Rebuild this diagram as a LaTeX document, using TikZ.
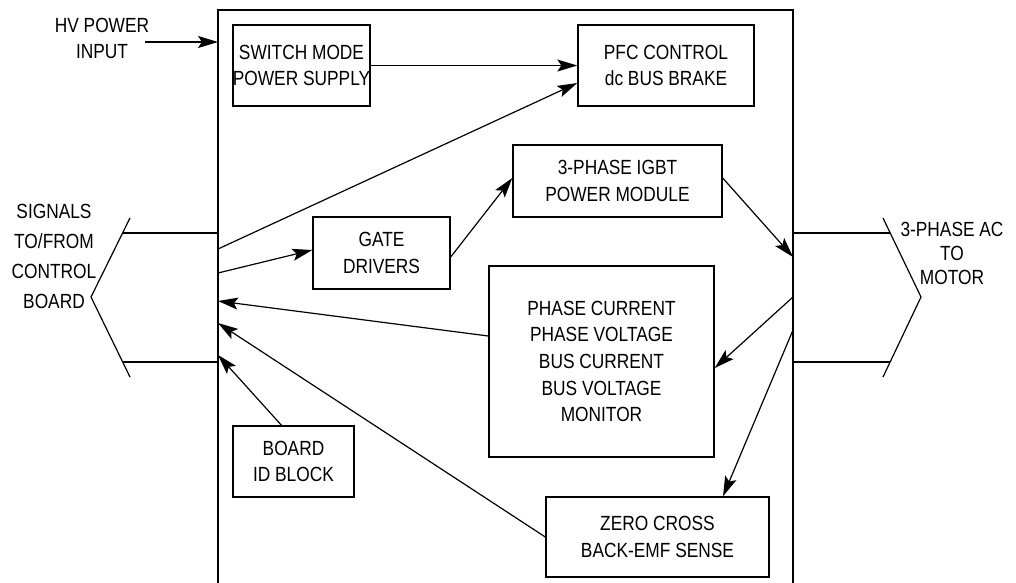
\documentclass[tikz,border=0pt]{standalone}
\usepackage{fontspec}
\setmainfont{Liberation Sans}[FakeStretch=0.845]
\usetikzlibrary{arrows.meta,calc}
\begin{document}
\begin{tikzpicture}[x=1pt,y=-1pt,
  box/.style={draw, line width=1.4pt, align=center, inner sep=0pt, font=\fontsize{20.5}{26.7}\selectfont},
  conn/.style={line width=1.2pt},
  arr/.style={conn, -{Stealth[length=20pt,width=12pt,inset=4pt]}},
  lbl/.style={align=center, inner sep=0pt}]
\clip (0,0) rectangle (1016,582);
% main board outline
\node[draw, line width=1.4pt, minimum width=575pt, minimum height=600pt, inner sep=0pt] (main) at (505.5,310) {};
% blocks
\node[box, minimum width=137pt, minimum height=81pt] (smps) at (301.5,65.5) {SWITCH MODE\\POWER SUPPLY};
\node[box, minimum width=176pt, minimum height=81pt] (pfc) at (666,65.5) {PFC CONTROL\\dc BUS BRAKE};
\node[box, minimum width=209pt, minimum height=72pt] (igbt) at (617.5,181) {3-PHASE IGBT\\POWER MODULE};
\node[box, minimum width=137pt, minimum height=72pt] (gate) at (381.5,253) {GATE\\DRIVERS};
\node[box, minimum width=225pt, minimum height=191pt] (phase) at (601.5,361.5) {PHASE CURRENT\\PHASE VOLTAGE\\BUS CURRENT\\BUS VOLTAGE\\MONITOR};
\node[box, minimum width=121pt, minimum height=71pt] (board) at (293.5,461.5) {BOARD\\ID BLOCK};
\node[box, minimum width=223pt, minimum height=80pt] (zero) at (657.5,537) {ZERO CROSS\\BACK-EMF SENSE};
% outside labels
\node[lbl, font=\fontsize{20.5}{26.7}\selectfont] (hv) at (102,38.3) {HV POWER\\INPUT};
\node[lbl, font=\fontsize{20.5}{30}\selectfont] (sig) at (54,256.8) {SIGNALS\\TO/FROM\\CONTROL\\BOARD};
\node[lbl, font=\fontsize{20.5}{24}\selectfont] (mot) at (952,253) {3-PHASE AC\\TO\\MOTOR};
% edge points on the main outline
\coordinate (hvS) at (145,42);
\coordinate (hvE) at (218,42);
\coordinate (mL1) at (218,249);
\coordinate (mL2) at (218,273);
\coordinate (mL3) at (218,301);
\coordinate (mL4) at (218,323);
\coordinate (mL5) at (218,355);
\coordinate (mR1) at (793,257);
\coordinate (mR2) at (793,297);
\coordinate (mR3) at (793,330);
% connector (left)
\coordinate (lT) at (218,233);
\coordinate (lB) at (218,362);
\coordinate (lTo) at (123,233);
\coordinate (lBo) at (123,362);
\coordinate (lc1) at (130,218);
\coordinate (lc2) at (91,297);
\coordinate (lc3) at (130,377);
% connector (right)
\coordinate (rT) at (793,233);
\coordinate (rB) at (793,362);
\coordinate (rTo) at (890,233);
\coordinate (rBo) at (890,362);
\coordinate (rc1) at (883,218);
\coordinate (rc2) at (921,297);
\coordinate (rc3) at (883,377);
% arrows
\draw[arr] (hvS) -- (hvE);
\draw[arr] (smps.east) -- (pfc.west);
\draw[arr] (mL1) -- ([yshift=-17.5pt]pfc.west);
\draw[arr] (mL2) -- ([yshift=3pt]gate.west);
\draw[arr] ([yshift=-4pt]gate.east) -- ([yshift=3pt]igbt.west);
\draw[arr] ([yshift=3pt]igbt.east) -- (mR1);
\draw[arr] (mR2) -- ([yshift=-6.5pt]phase.east);
\draw[arr] (mR3) -- ([xshift=65.5pt]zero.north);
\draw[arr] ([yshift=25.5pt]phase.west) -- (mL3);
\draw[arr] (zero.west) -- (mL4);
\draw[arr] ([xshift=-12pt]board.north) -- (mL5);
% connector shapes
\draw[conn] (lT) -- (lTo);
\draw[conn] (lB) -- (lBo);
\draw[conn] (lc1) -- (lc2) -- (lc3);
\draw[conn] (rT) -- (rTo);
\draw[conn] (rB) -- (rBo);
\draw[conn] (rc1) -- (rc2) -- (rc3);
\end{tikzpicture}
\end{document}
